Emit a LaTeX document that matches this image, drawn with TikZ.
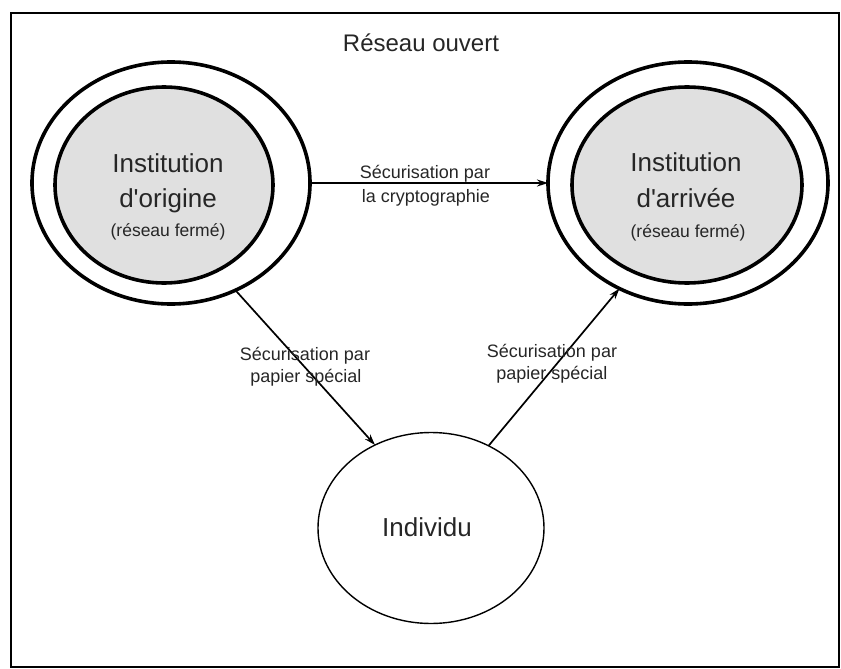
\documentclass[tikz,border=0pt]{standalone}
\usepackage{fontspec}
\setmainfont{Liberation Sans}[Ligatures=TeXOff]
\usetikzlibrary{shapes.geometric,arrows.meta}
\begin{document}
\begin{tikzpicture}[x=1pt,y=-1pt,
  ring/.style={ellipse, draw, line width=3.6pt, inner sep=0pt, outer sep=0pt},
  core/.style={ring, fill=gray!24},
  person/.style={ellipse, draw, line width=1.4pt, inner sep=0pt, outer sep=0pt},
  conn/.style={-{Stealth[length=11pt,width=7pt]}, line width=1.7pt},
  big/.style={anchor=base, inner sep=0pt, text=black!85, font=\fontsize{26}{30}\selectfont},
  sub/.style={anchor=base, inner sep=0pt, text=black!85, font=\fontsize{17.5}{20}\selectfont},
  lbl/.style={anchor=base, inner sep=0pt, text=black!85, font=\fontsize{18}{21}\selectfont},
  titlestyle/.style={anchor=base, inner sep=0pt, text=black!85, font=\fontsize{24}{28}\selectfont}]
\useasboundingbox (0,0) rectangle (841,669);
\draw[line width=1.6pt] (11,13) rectangle (839,667);

\node[titlestyle] (title) at (421,52) {Réseau ouvert};

% left institution
\node[ring, minimum width=278pt, minimum height=242pt] (lo) at (171,183) {};
\node[core, minimum width=218pt, minimum height=196pt] (li) at (164,185) {};
\node[big] (l1) at (168,172) {Institution};
\node[big] (l2) at (168,207) {d'origine};
\node[sub] (l3) at (168,236) {(réseau fermé)};

% right institution
\node[ring, minimum width=280pt, minimum height=242pt] (ro) at (688,183) {};
\node[core, minimum width=230pt, minimum height=196pt] (ri) at (687,185) {};
\node[big] (r1) at (686,171) {Institution};
\node[big] (r2) at (686,207) {d'arrivée};
\node[sub] (r3) at (688,237) {(réseau fermé)};

% individual
\node[person, minimum width=226pt, minimum height=191pt] (ind) at (431,528) {};
\node[big] (i1) at (427,536) {Individu};

% connectors
\draw[conn] (lo.east) -- (ro.west);
\draw[conn] (lo.-59) -- (ind.124);
\draw[conn] (ind.55) -- (ro.237);

% labels
\node[lbl] (c1) at (425,178) {Sécurisation par};
\node[lbl] (c2) at (426,202) {la cryptographie};
\node[lbl] (p1) at (305,360) {Sécurisation par};
\node[lbl] (p2) at (306,382) {papier spécial};
\node[lbl] (q1) at (552,357) {Sécurisation par};
\node[lbl] (q2) at (552,379) {papier spécial};
\end{tikzpicture}
\end{document}
